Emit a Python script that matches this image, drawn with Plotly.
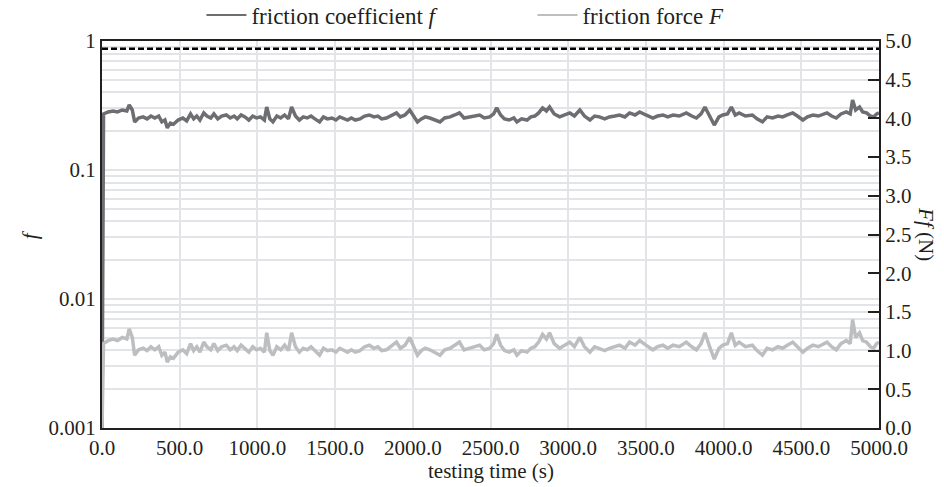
import plotly.graph_objects as go

# time (s)
t = [0, 10, 40, 70, 100, 130, 160, 175, 195, 210, 235, 265, 290, 315, 340, 365, 385, 405, 420, 440,
     460, 490, 520, 545, 570, 590, 610, 630, 655, 675, 700, 720, 745, 770, 800, 825, 850, 870, 895, 920,
     945, 970, 995, 1020, 1045, 1060, 1080, 1100, 1125, 1150, 1175, 1200, 1220, 1245, 1270, 1295, 1320, 1345, 1370, 1400,
     1425, 1450, 1480, 1505, 1530, 1555, 1580, 1605, 1630, 1660, 1690, 1720, 1750, 1775, 1800, 1830, 1860, 1895, 1920, 1950,
     1980, 2005, 2030, 2055, 2080, 2110, 2140, 2175, 2205, 2240, 2270, 2300, 2330, 2365, 2395, 2430, 2460, 2495, 2520, 2540,
     2565, 2590, 2620, 2650, 2670, 2700, 2735, 2760, 2785, 2810, 2835, 2860, 2880, 2910, 2945, 2975, 3010, 3040, 3075, 3105,
     3140, 3170, 3200, 3235, 3265, 3300, 3330, 3365, 3395, 3430, 3460, 3500, 3545, 3575, 3610, 3640, 3675, 3715, 3760, 3795,
     3825, 3855, 3880, 3910, 3940, 3970, 3995, 4025, 4050, 4075, 4100, 4140, 4185, 4215, 4250, 4280, 4315, 4350, 4380, 4410,
     4445, 4475, 4510, 4540, 4575, 4610, 4640, 4665, 4695, 4725, 4755, 4790, 4815, 4830, 4850, 4875, 4895, 4920, 4945, 4965,
     4985, 5000]

# friction coefficient f (log axis)
f_coef = [0.001, 0.272, 0.282, 0.287, 0.282, 0.292, 0.287, 0.319, 0.292, 0.236, 0.253, 0.258, 0.249, 0.262, 0.253, 0.262, 0.236, 0.244, 0.212, 0.231,
          0.226, 0.244, 0.253, 0.240, 0.272, 0.249, 0.262, 0.244, 0.277, 0.262, 0.253, 0.272, 0.249, 0.262, 0.267, 0.253, 0.262, 0.249, 0.267, 0.258,
          0.244, 0.262, 0.253, 0.258, 0.244, 0.308, 0.249, 0.236, 0.262, 0.253, 0.267, 0.249, 0.308, 0.262, 0.244, 0.258, 0.253, 0.262, 0.249, 0.236,
          0.258, 0.249, 0.253, 0.244, 0.258, 0.249, 0.244, 0.253, 0.244, 0.249, 0.262, 0.267, 0.258, 0.262, 0.249, 0.253, 0.262, 0.277, 0.258, 0.267,
          0.292, 0.262, 0.236, 0.249, 0.258, 0.253, 0.244, 0.236, 0.253, 0.258, 0.267, 0.277, 0.253, 0.258, 0.262, 0.267, 0.253, 0.258, 0.272, 0.303,
          0.267, 0.249, 0.244, 0.253, 0.236, 0.249, 0.244, 0.258, 0.262, 0.277, 0.303, 0.287, 0.308, 0.272, 0.258, 0.267, 0.277, 0.262, 0.292, 0.262,
          0.244, 0.262, 0.258, 0.249, 0.258, 0.262, 0.267, 0.258, 0.277, 0.267, 0.282, 0.267, 0.253, 0.262, 0.267, 0.258, 0.267, 0.262, 0.277, 0.262,
          0.253, 0.272, 0.308, 0.262, 0.223, 0.258, 0.267, 0.272, 0.308, 0.267, 0.277, 0.262, 0.267, 0.249, 0.236, 0.258, 0.253, 0.262, 0.258, 0.267,
          0.277, 0.262, 0.244, 0.258, 0.267, 0.262, 0.272, 0.277, 0.262, 0.253, 0.272, 0.282, 0.272, 0.349, 0.292, 0.308, 0.282, 0.277, 0.262, 0.258,
          0.272, 0.277]

# friction force F (N, right axis)
f_force = [0.00, 1.09, 1.13, 1.15, 1.13, 1.17, 1.15, 1.28, 1.17, 0.94, 1.01, 1.03, 1.00, 1.05, 1.01, 1.05, 0.94, 0.98, 0.85, 0.92,
           0.90, 0.98, 1.01, 0.96, 1.09, 1.00, 1.05, 0.98, 1.11, 1.05, 1.01, 1.09, 1.00, 1.05, 1.07, 1.01, 1.05, 1.00, 1.07, 1.03,
           0.98, 1.05, 1.01, 1.03, 0.98, 1.23, 1.00, 0.94, 1.05, 1.01, 1.07, 1.00, 1.23, 1.05, 0.98, 1.03, 1.01, 1.05, 1.00, 0.94,
           1.03, 1.00, 1.01, 0.98, 1.03, 1.00, 0.98, 1.01, 0.98, 1.00, 1.05, 1.07, 1.03, 1.05, 1.00, 1.01, 1.05, 1.11, 1.03, 1.07,
           1.17, 1.05, 0.94, 1.00, 1.03, 1.01, 0.98, 0.94, 1.01, 1.03, 1.07, 1.11, 1.01, 1.03, 1.05, 1.07, 1.01, 1.03, 1.09, 1.21,
           1.07, 1.00, 0.98, 1.01, 0.94, 1.00, 0.98, 1.03, 1.05, 1.11, 1.21, 1.15, 1.23, 1.09, 1.03, 1.07, 1.11, 1.05, 1.17, 1.05,
           0.98, 1.05, 1.03, 1.00, 1.03, 1.05, 1.07, 1.03, 1.11, 1.07, 1.13, 1.07, 1.01, 1.05, 1.07, 1.03, 1.07, 1.05, 1.11, 1.05,
           1.01, 1.09, 1.23, 1.05, 0.89, 1.03, 1.07, 1.09, 1.23, 1.07, 1.11, 1.05, 1.07, 1.00, 0.94, 1.03, 1.01, 1.05, 1.03, 1.07,
           1.11, 1.05, 0.98, 1.03, 1.07, 1.05, 1.09, 1.11, 1.05, 1.01, 1.09, 1.13, 1.09, 1.40, 1.17, 1.23, 1.13, 1.11, 1.05, 1.03,
           1.09, 1.11]

ref_level = 4.9          # dashed reference line on right axis
x_range = [0, 5000]

log_ticks = [1e-3, 1e-2, 1e-1, 1]
log_ticktext = ["0.001", "0.01", "0.1", "1"]

FONT = "Liberation Serif"
DARK = "#6d6e71"
LIGHT = "#bcbec0"

grid_vals = []
for d in [1e-3, 1e-2, 1e-1]:
    for k in range(1, 10):
        grid_vals.append(round(d * k, 6))
grid_vals.append(1)
grid_text = [log_ticktext[log_ticks.index(v)] if v in log_ticks else "" for v in grid_vals]

fig = go.Figure()
fig.add_trace(go.Scatter(x=t, y=f_coef, mode="lines", showlegend=False,
                         line=dict(color=DARK, width=3.5), yaxis="y"))
fig.add_trace(go.Scatter(x=t, y=f_force, mode="lines", showlegend=False,
                         line=dict(color=LIGHT, width=3.5), yaxis="y2"))
fig.add_trace(go.Scatter(x=x_range, y=[ref_level, ref_level], mode="lines", showlegend=False,
                         line=dict(color="black", width=2.5, dash="6px,3px"), yaxis="y2"))
# legend entries (thin line samples)
fig.add_trace(go.Scatter(x=[None], y=[None], mode="lines", name="friction coefficient <i>f</i>",
                         line=dict(color=DARK, width=2), yaxis="y"))
fig.add_trace(go.Scatter(x=[None], y=[None], mode="lines", name="friction force <i>F</i>",
                         line=dict(color=LIGHT, width=2), yaxis="y"))

fig.update_layout(
    width=944, height=487,
    margin=dict(l=102, r=65, t=41, b=59, autoexpand=False),
    paper_bgcolor="white", plot_bgcolor="white",
    font=dict(family=FONT, size=21, color="#231f20"),
    showlegend=True,
    legend=dict(orientation="h", x=0.128, xanchor="left", y=1.067, yanchor="middle",
                font=dict(family=FONT, size=23), bgcolor="rgba(0,0,0,0)", itemwidth=40,
                entrywidth=276),
    xaxis=dict(range=x_range, dtick=500, tick0=0, tickformat=".1f",
               showgrid=True, gridcolor="#e2e4e7", gridwidth=2,
               showline=True, linecolor="#231f20", linewidth=2, mirror=True,
               ticks="", zeroline=False, tickfont=dict(size=21)),
    yaxis=dict(type="log", range=[-3, 0], tickvals=grid_vals, ticktext=grid_text,
               showgrid=True, gridcolor="#e2e4e7", gridwidth=2,
               showline=True, linecolor="#231f20", linewidth=2, mirror=True,
               ticks="", zeroline=False, tickfont=dict(size=21)),
    yaxis2=dict(overlaying="y", side="right", range=[0, 5], dtick=0.5, tick0=0, tickformat=".1f",
                showgrid=False, zeroline=False, showline=True, linecolor="#231f20", linewidth=2,
                ticks="inside", ticklen=11, tickwidth=1.5, tickcolor="#231f20", tickfont=dict(size=21)),
    annotations=[
        dict(text="<i>f</i>", xref="paper", yref="paper", x=-0.093, xanchor="center", y=0.5,
             yanchor="middle", showarrow=False, font=dict(family=FONT, size=21), textangle=-90),
        dict(text="testing time (s)", xref="paper", yref="paper", x=0.5, xanchor="center", y=-0.11,
             showarrow=False, font=dict(family=FONT, size=21), yanchor="middle"),
        dict(text="<i>Ff</i> (N)", xref="paper", yref="paper", x=1.061, xanchor="center", y=0.5,
             yanchor="middle", showarrow=False, font=dict(family=FONT, size=21), textangle=90),
    ],
)

fig.write_html("out.html")
